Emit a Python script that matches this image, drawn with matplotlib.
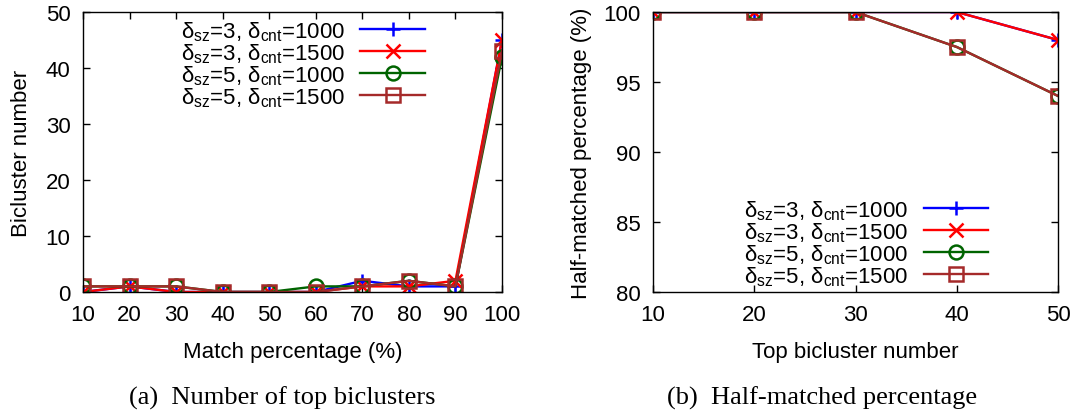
import numpy as np
import matplotlib
matplotlib.use("Agg")
import matplotlib.pyplot as plt

plt.rcParams['font.family'] = ['Liberation Sans', 'DejaVu Sans']
plt.rcParams['mathtext.fontset'] = 'custom'
plt.rcParams['mathtext.rm'] = 'Liberation Sans'

# (a) bicluster counts per match percentage
match_pct = [10, 20, 30, 40, 50, 60, 70, 80, 90, 100]
count_sz3_c1000 = [0, 1, 0, 0, 0, 0, 2, 1, 1, 45]
count_sz3_c1500 = [0, 1, 0, 0, 0, 0, 1, 1, 2, 45]
count_sz5_c1000 = [1, 1, 1, 0, 0, 1, 1, 2, 1, 42]
count_sz5_c1500 = [1, 1, 1, 0, 0, 0, 1, 2, 1, 43]

# (b) half-matched percentage per top-k
top_k = [10, 20, 30, 40, 50]
half_sz3_c1000 = [100, 100, 100, 100, 98]
half_sz3_c1500 = [100, 100, 100, 100, 98]
half_sz5_c1000 = [100, 100, 100, 97.5, 94]
half_sz5_c1500 = [100, 100, 100, 97.5, 94]

labels = [r'δ$_{\mathregular{sz}}$=3, δ$_{\mathregular{cnt}}$=1000',
          r'δ$_{\mathregular{sz}}$=3, δ$_{\mathregular{cnt}}$=1500',
          r'δ$_{\mathregular{sz}}$=5, δ$_{\mathregular{cnt}}$=1000',
          r'δ$_{\mathregular{sz}}$=5, δ$_{\mathregular{cnt}}$=1500']
styles = [dict(color='#0000ff', marker='+', mfc='none'),
          dict(color='#ff0000', marker='x', mfc='none'),
          dict(color='#006400', marker='o', mfc='none'),
          dict(color='#a52a2a', marker='s', mfc='none')]

FS = 16

fig = plt.figure(figsize=(10.77, 4.14), dpi=100)
ax1 = fig.add_axes([0.0771, 0.2923, 0.389, 0.6763])
ax2 = fig.add_axes([0.6063, 0.2923, 0.3761, 0.6763])


def draw(ax, x, series, loc, anchor):
    for ys, lab, st in zip(series, labels, styles):
        ax.plot(x, ys, label=lab, lw=1.7, ms=10, mew=1.8, **st)
    ax.tick_params(direction='in', top=True, right=True, length=5,
                   width=1, labelsize=FS, pad=9)
    for sp in ax.spines.values():
        sp.set_linewidth(1)
    ax.legend(frameon=False, markerfirst=False, handlelength=2.9,
              fontsize=FS, labelspacing=-0.07, handletextpad=0.7,
              borderaxespad=0, borderpad=0, loc=loc, bbox_to_anchor=anchor)


draw(ax1, match_pct, [count_sz3_c1000, count_sz3_c1500,
                      count_sz5_c1000, count_sz5_c1500],
     'upper right', (0.816, 0.975))
ax1.set_xlim(10, 100)
ax1.set_ylim(0, 50)
ax1.set_xticks(match_pct)
ax1.set_yticks([0, 10, 20, 30, 40, 50])
ax1.set_xlabel('Match percentage (%)', fontsize=FS, labelpad=11)
ax1.set_ylabel('Bicluster number', fontsize=FS, labelpad=10)

draw(ax2, top_k, [half_sz3_c1000, half_sz3_c1500,
                  half_sz5_c1000, half_sz5_c1500],
     'lower right', (0.827, 0.015))
ax2.set_xlim(10, 50)
ax2.set_ylim(80, 100)
ax2.set_xticks(top_k)
ax2.set_yticks([80, 85, 90, 95, 100])
ax2.set_xlabel('Top bicluster number', fontsize=FS, labelpad=11)
ax2.set_ylabel('Half-matched percentage (%)', fontsize=FS, labelpad=8)

fig.text(0.2617, 0.038, '(a)  Number of top biclusters', ha='center',
         va='center', family='Liberation Serif', fontsize=19)
fig.text(0.763, 0.038, '(b)  Half-matched percentage', ha='center',
         va='center', family='Liberation Serif', fontsize=19)

fig.savefig('out.png', dpi=100)
